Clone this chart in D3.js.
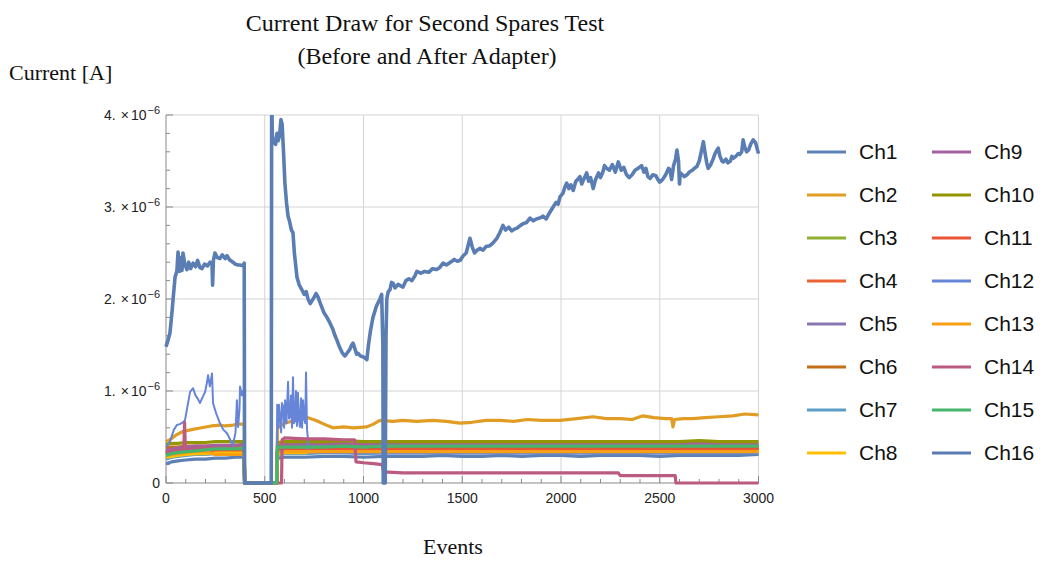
<!DOCTYPE html>
<html>
<head>
<meta charset="utf-8">
<script src="https://cdn.jsdelivr.net/npm/d3@7"></script>
<style>
  body { margin: 0; background: #fff; }
  svg { display: block; }
</style>
</head>
<body>
<svg id="chart" width="1045" height="561"></svg>
<script>
// values are in units of 1e-6 A
var channels = ["Ch1","Ch2","Ch3","Ch4","Ch5","Ch6","Ch7","Ch8","Ch9","Ch10","Ch11","Ch12","Ch13","Ch14","Ch15","Ch16"];
var colors = ["#5e81b5","#e19c24","#8fb032","#eb6235","#8778b3","#c56e1a","#5d9ec7","#ffbf00",
              "#a5609d","#929600","#e95536","#6685d9","#f89f13","#bc5b80","#47b66d","#5a7db3"];
var xTicks = [0, 500, 1000, 1500, 2000, 2500, 3000];
var yTicks = [0, 1, 2, 3, 4];

// shared event grid for the flat "bundle" channels
var bundleEvents = [0,30,60,100,150,200,250,300,350,396,398,560,565,600,700,800,900,1000,1100,1200,
  1300,1400,1500,1600,1700,1800,1900,2000,2100,2200,2300,2400,2500,2600,2700,2800,2900,3000];
var ch1 = [0.21,0.23,0.24,0.25,0.26,0.26,0.27,0.27,0.28,0.28,0,0,0.27,0.28,0.28,0.29,0.29,0.28,0.29,0.29,
  0.29,0.30,0.29,0.29,0.30,0.29,0.30,0.30,0.29,0.30,0.30,0.30,0.29,0.30,0.30,0.30,0.30,0.31];
var ch3 = [0.33,0.35,0.36,0.37,0.38,0.38,0.39,0.39,0.39,0.40,0,0,0.38,0.40,0.40,0.40,0.41,0.40,0.41,0.41,
  0.41,0.41,0.41,0.41,0.41,0.41,0.41,0.41,0.42,0.41,0.41,0.41,0.41,0.41,0.41,0.42,0.41,0.41];
var ch4 = [0.30,0.31,0.32,0.33,0.34,0.34,0.35,0.35,0.35,0.36,0,0,0.35,0.36,0.36,0.37,0.37,0.36,0.37,0.37,
  0.37,0.37,0.37,0.37,0.37,0.37,0.37,0.37,0.37,0.37,0.37,0.37,0.37,0.37,0.37,0.37,0.37,0.37];
var ch5 = [0.32,0.34,0.35,0.36,0.37,0.37,0.38,0.38,0.38,0.39,0,0,0.38,0.39,0.40,0.40,0.40,0.40,0.40,0.40,
  0.41,0.40,0.40,0.41,0.41,0.40,0.41,0.41,0.41,0.41,0.41,0.41,0.41,0.41,0.41,0.41,0.41,0.41];
var ch6 = [0.38,0.39,0.39,0.40,0.40,0.40,0.40,0.40,0.41,0.41,0,0,0.38,0.38,0.38,0.38,0.38,0.38,0.38,0.38,
  0.38,0.38,0.38,0.38,0.38,0.38,0.38,0.38,0.38,0.38,0.38,0.38,0.38,0.38,0.38,0.38,0.38,0.38];
var ch7 = [0.26,0.28,0.29,0.30,0.31,0.31,0.32,0.32,0.32,0.33,0,0,0.31,0.32,0.32,0.33,0.33,0.32,0.33,0.33,
  0.33,0.33,0.33,0.33,0.33,0.33,0.33,0.33,0.33,0.33,0.33,0.33,0.33,0.33,0.33,0.33,0.33,0.33];
var ch8 = [0.28,0.29,0.30,0.31,0.32,0.32,0.33,0.33,0.33,0.33,0,0,0.32,0.33,0.33,0.34,0.34,0.33,0.34,0.34,
  0.34,0.34,0.34,0.34,0.34,0.34,0.34,0.34,0.34,0.34,0.34,0.34,0.34,0.34,0.34,0.34,0.34,0.34];
var ch9 = [0.35,0.37,0.38,0.39,0.40,0.40,0.41,0.41,0.41,0.42,0,0,0.41,0.42,0.43,0.43,0.43,0.42,0.43,0.43,
  0.43,0.43,0.43,0.43,0.43,0.43,0.43,0.43,0.43,0.43,0.43,0.43,0.43,0.43,0.43,0.43,0.43,0.43];
var ch10 = [0.42,0.43,0.43,0.44,0.44,0.44,0.45,0.45,0.45,0.45,0,0,0.44,0.45,0.45,0.45,0.46,0.45,0.45,0.45,
  0.45,0.45,0.45,0.45,0.45,0.45,0.45,0.45,0.45,0.45,0.45,0.45,0.45,0.45,0.46,0.45,0.45,0.45];
var ch11 = [0.31,0.32,0.33,0.34,0.35,0.35,0.36,0.36,0.36,0.36,0,0,0.36,0.37,0.37,0.37,0.38,0.37,0.38,0.38,
  0.38,0.38,0.38,0.38,0.38,0.38,0.38,0.38,0.38,0.38,0.38,0.38,0.38,0.38,0.38,0.38,0.38,0.38];
var ch13 = [0.30,0.31,0.32,0.33,0.34,0.34,0.31,0.31,0.31,0.31,0,0,0.33,0.34,0.34,0.34,0.34,0.34,0.34,0.34,
  0.34,0.34,0.34,0.34,0.34,0.34,0.34,0.34,0.34,0.34,0.34,0.34,0.34,0.34,0.34,0.34,0.34,0.34];
var ch15 = [0.30,0.32,0.33,0.34,0.35,0.36,0.37,0.37,0.37,0.38,0,0,0.39,0.39,0.39,0.39,0.40,0.39,0.40,0.40,
  0.40,0.40,0.40,0.40,0.40,0.40,0.40,0.40,0.40,0.40,0.40,0.40,0.40,0.40,0.40,0.40,0.40,0.40];

// channels with their own shape: [event, value]
var ch2 = [[0,0.45],[20,0.47],[50,0.52],[86,0.56],[130,0.58],[180,0.6],[230,0.62],[273,0.63],[300,0.62],
  [339,0.63],[370,0.64],[396,0.64],[398,0],[560,0],[565,0.6],[600,0.65],[650,0.68],[700,0.7],[719,0.71],
  [760,0.68],[800,0.64],[845,0.6],[900,0.61],[950,0.6],[1017,0.61],[1050,0.64],[1083,0.68],[1150,0.67],
  [1200,0.68],[1270,0.67],[1350,0.68],[1420,0.67],[1489,0.65],[1550,0.66],[1620,0.68],[1691,0.68],
  [1760,0.67],[1830,0.69],[1900,0.68],[1995,0.68],[2080,0.7],[2162,0.72],[2230,0.7],[2300,0.7],[2360,0.69],
  [2415,0.73],[2470,0.71],[2530,0.7],[2560,0.7],[2567,0.61],[2575,0.69],[2620,0.7],[2668,0.7],[2730,0.71],
  [2800,0.72],[2870,0.73],[2930,0.75],[3000,0.74]];
var ch12 = [[0,0.39],[20,0.45],[40,0.58],[55,0.63],[70,0.64],[85,0.66],[96,0.68],[110,0.85],[122,0.99],
  [137,1.03],[150,0.95],[160,0.92],[172,0.87],[185,0.93],[198,0.99],[208,1.1],[213,1.17],[222,1.05],
  [233,1.19],[238,0.87],[255,0.75],[273,0.65],[290,0.58],[305,0.55],[314,0.52],[325,0.47],[339,0.41],
  [352,0.55],[359,0.9],[365,0.61],[372,0.8],[375,1.05],[385,0.95],[390,1.0],[396,0.98],[398,0],[560,0],
  [563,0.85],[568,0.6],[572,0.85],[577,0.72],[583,0.55],[587,0.87],[593,0.83],[598,0.6],[603,0.9],
  [610,0.65],[618,1.1],[623,0.7],[628,0.72],[633,0.95],[638,0.6],[643,1.15],[648,0.65],[653,0.68],
  [658,1.0],[663,0.62],[668,0.98],[673,0.7],[678,0.61],[684,0.92],[689,0.6],[694,0.9],[700,0.7],
  [705,0.65],[709,1.2],[714,0.58],[718,0.5],[722,0.33],[1000,0.32],[1500,0.32],[2000,0.32],[2500,0.32],[3000,0.32]];
var ch14 = [[0,0.33],[50,0.35],[90,0.36],[94,0.66],[98,0.36],[150,0.37],[200,0.38],[250,0.38],[300,0.38],
  [350,0.38],[396,0.38],[398,0],[585,0],[588,0.47],[600,0.49],[700,0.48],[800,0.48],[900,0.47],[955,0.47],
  [962,0.23],[1000,0.22],[1050,0.21],[1095,0.2],[1102,0.12],[1200,0.11],[1400,0.11],[1600,0.11],
  [1800,0.11],[2000,0.11],[2200,0.11],[2290,0.11],[2300,0.08],[2500,0.08],[2578,0.08],[2582,0],[3000,0]];
var ch16 = [[0,1.48],[10,1.55],[20,1.63],[30,1.85],[38,2.05],[46,2.24],[55,2.3],[61,2.51],[68,2.3],[75,2.45],
  [81,2.31],[86,2.5],[95,2.38],[106,2.32],[115,2.4],[125,2.33],[137,2.39],[150,2.35],[160,2.42],[172,2.34],
  [182,2.33],[195,2.38],[210,2.36],[223,2.4],[233,2.38],[236,2.15],[240,2.42],[248,2.5],[260,2.45],
  [273,2.44],[285,2.48],[300,2.44],[309,2.47],[320,2.43],[339,2.4],[350,2.38],[365,2.37],[375,2.37],
  [390,2.36],[396,2.39],[398,0],[533,0],[535,4.3],[538,3.8],[542,3.7],[547,3.72],[555,3.68],[562,3.8],
  [568,3.72],[575,3.78],[582,3.95],[588,3.9],[595,3.6],[602,3.26],[610,3.05],[618,2.9],[625,2.85],
  [635,2.75],[643,2.72],[650,2.5],[663,2.24],[675,2.15],[688,2.1],[700,2.05],[710,2.08],[719,2.0],
  [730,1.95],[745,2.0],[760,2.06],[770,2.02],[780,1.96],[800,1.85],[815,1.8],[830,1.74],[845,1.67],
  [856,1.6],[866,1.55],[878,1.48],[891,1.42],[905,1.38],[916,1.41],[930,1.45],[940,1.5],[947,1.52],
  [958,1.45],[965,1.4],[972,1.41],[985,1.38],[1000,1.37],[1017,1.34],[1025,1.5],[1035,1.65],[1048,1.8],
  [1065,1.92],[1083,2.0],[1092,2.05],[1098,1.5],[1100,0],[1110,0],[1114,1.6],[1118,2.0],[1125,2.08],
  [1134,2.1],[1142,2.18],[1150,2.17],[1160,2.12],[1175,2.16],[1190,2.14],[1200,2.13],[1215,2.2],
  [1230,2.22],[1245,2.2],[1260,2.25],[1270,2.3],[1290,2.28],[1310,2.3],[1330,2.29],[1350,2.33],
  [1370,2.32],[1385,2.34],[1403,2.39],[1420,2.37],[1440,2.4],[1460,2.43],[1475,2.41],[1489,2.42],
  [1505,2.47],[1520,2.5],[1539,2.66],[1550,2.57],[1562,2.5],[1575,2.53],[1590,2.55],[1605,2.53],
  [1620,2.57],[1640,2.58],[1656,2.61],[1675,2.66],[1690,2.72],[1706,2.8],[1720,2.75],[1735,2.78],
  [1750,2.74],[1765,2.76],[1777,2.77],[1795,2.8],[1810,2.82],[1825,2.83],[1843,2.88],[1860,2.85],
  [1875,2.87],[1893,2.88],[1910,2.9],[1925,2.87],[1940,2.93],[1960,3.0],[1975,3.05],[1985,3.03],
  [1995,3.11],[2010,3.15],[2020,3.22],[2029,3.26],[2040,3.2],[2050,3.24],[2062,3.18],[2075,3.28],
  [2085,3.3],[2096,3.33],[2105,3.25],[2115,3.3],[2130,3.37],[2140,3.28],[2150,3.32],[2163,3.2],
  [2175,3.3],[2190,3.37],[2200,3.32],[2212,3.38],[2220,3.45],[2231,3.42],[2245,3.4],[2260,3.46],
  [2275,3.38],[2290,3.49],[2305,3.4],[2318,3.43],[2332,3.35],[2345,3.32],[2360,3.35],[2375,3.4],
  [2390,3.42],[2408,3.45],[2420,3.38],[2430,3.42],[2440,3.33],[2451,3.31],[2465,3.35],[2480,3.34],
  [2490,3.3],[2500,3.27],[2515,3.3],[2530,3.35],[2545,3.42],[2552,3.4],[2560,3.3],[2570,3.45],
  [2580,3.52],[2587,3.62],[2595,3.5],[2600,3.25],[2604,3.37],[2615,3.35],[2625,3.33],[2638,3.35],
  [2650,3.38],[2665,3.4],[2675,3.42],[2688,3.44],[2700,3.5],[2710,3.6],[2721,3.71],[2730,3.58],
  [2738,3.48],[2745,3.42],[2758,3.46],[2770,3.52],[2780,3.58],[2790,3.62],[2796,3.64],[2805,3.55],
  [2815,3.5],[2822,3.49],[2835,3.52],[2845,3.48],[2858,3.5],[2865,3.55],[2872,3.53],[2885,3.55],
  [2897,3.58],[2905,3.57],[2915,3.6],[2922,3.73],[2932,3.64],[2940,3.6],[2950,3.62],[2960,3.68],
  [2973,3.73],[2985,3.7],[3000,3.58]];

function zipBundle(vals) { return bundleEvents.map(function (e, i) { return [e, vals[i]]; }); }
var series = [zipBundle(ch1), ch2, zipBundle(ch3), zipBundle(ch4), zipBundle(ch5), zipBundle(ch6),
  zipBundle(ch7), zipBundle(ch8), zipBundle(ch9), zipBundle(ch10), zipBundle(ch11), ch12,
  zipBundle(ch13), ch14, zipBundle(ch15), ch16];

var svg = d3.select("#chart");
var x = d3.scaleLinear().domain([0, 3000]).range([166, 758.5]);
var y = d3.scaleLinear().domain([0, 4]).range([483, 115]);

// gridlines
svg.append("g").selectAll("line.gx")
  .data(xTicks.filter(function (d) { return d > 0; }))
  .enter().append("line")
  .attr("x1", function (d) { return x(d); }).attr("x2", function (d) { return x(d); })
  .attr("y1", y(0)).attr("y2", y(4))
  .attr("stroke", "#d4d4d4").attr("stroke-width", 1);
svg.append("g").selectAll("line.gy")
  .data(yTicks.filter(function (d) { return d > 0; }))
  .enter().append("line")
  .attr("x1", x(0)).attr("x2", x(3000))
  .attr("y1", function (d) { return y(d); }).attr("y2", function (d) { return y(d); })
  .attr("stroke", "#d4d4d4").attr("stroke-width", 1);

// axes with inward ticks
var xAxis = svg.append("g").attr("transform", "translate(0," + y(0) + ")");
xAxis.append("line").attr("x1", x(0)).attr("x2", x(3000)).attr("stroke", "#8a8a8a");
xAxis.selectAll("line.minor").data(d3.range(0, 3001, 100)).enter().append("line")
  .attr("x1", function (d) { return x(d); }).attr("x2", function (d) { return x(d); })
  .attr("y1", 0).attr("y2", function (d) { return d % 500 === 0 ? -7 : -4; })
  .attr("stroke", "#8a8a8a");
xAxis.selectAll("text").data(xTicks).enter().append("text")
  .attr("x", function (d) { return x(d); }).attr("y", 20)
  .attr("text-anchor", "middle")
  .style("font", "14px 'Liberation Sans', Arial, sans-serif").attr("fill", "#222")
  .text(function (d) { return d; });

var yAxis = svg.append("g").attr("transform", "translate(" + x(0) + ",0)");
yAxis.append("line").attr("y1", y(0)).attr("y2", y(4)).attr("stroke", "#8a8a8a");
yAxis.selectAll("line.minor").data(d3.range(0, 4.01, 0.2)).enter().append("line")
  .attr("y1", function (d) { return y(d); }).attr("y2", function (d) { return y(d); })
  .attr("x1", 0).attr("x2", function (d) { return Math.abs(d - Math.round(d)) < 1e-6 ? 7 : 4; })
  .attr("stroke", "#8a8a8a");
var yLabels = yAxis.selectAll("text").data(yTicks).enter().append("text")
  .attr("x", -6).attr("y", function (d) { return y(d) + 5; })
  .attr("text-anchor", "end")
  .style("font", "14px 'Liberation Sans', Arial, sans-serif").attr("fill", "#222");
yLabels.each(function (d) {
  var t = d3.select(this);
  if (d === 0) { t.text("0"); return; }
  t.append("tspan").text(d + ".");
  t.append("tspan").attr("dx", 5).text("\u00d7");
  t.append("tspan").attr("dx", 2).text("10");
  t.append("tspan").attr("dx", 1).attr("dy", -6).style("font-size", "11px").text("\u22126");
});

// series
svg.append("clipPath").attr("id", "plotClip").append("rect")
  .attr("x", x(0) - 5).attr("y", y(4)).attr("width", x(3000) - x(0) + 10).attr("height", y(0) - y(4) + 6);
var line = d3.line().x(function (d) { return x(d[0]); }).y(function (d) { return y(d[1]); });
svg.append("g").attr("clip-path", "url(#plotClip)")
  .selectAll("path").data(series).enter().append("path")
  .attr("d", line)
  .attr("fill", "none")
  .attr("stroke", function (d, i) { return colors[i]; })
  .attr("stroke-width", function (d, i) { return i === 15 ? 3.6 : (i === 11 ? 2 : 3.2); })
  .attr("stroke-linejoin", "round");

// titles
var serif = "'Liberation Serif', 'Times New Roman', serif";
svg.append("text").attr("x", 425).attr("y", 31).attr("text-anchor", "middle")
  .style("font", "24px " + serif).attr("fill", "#111")
  .text("Current Draw for Second Spares Test");
svg.append("text").attr("x", 427).attr("y", 64).attr("text-anchor", "middle")
  .style("font", "24px " + serif).attr("fill", "#111")
  .text("(Before and After Adapter)");
svg.append("text").attr("x", 9).attr("y", 80)
  .style("font", "22px " + serif).attr("fill", "#111")
  .text("Current [A]");
svg.append("text").attr("x", 453).attr("y", 554).attr("text-anchor", "middle")
  .style("font", "22px " + serif).attr("fill", "#111")
  .text("Events");

// legend
var legend = svg.append("g").selectAll("g").data(channels).enter().append("g")
  .attr("transform", function (d, i) {
    return "translate(" + (i < 8 ? 807 : 932) + "," + (152 + (i % 8) * 43) + ")";
  });
legend.append("line").attr("x1", 0).attr("x2", 39)
  .attr("stroke", function (d, i) { return colors[i]; }).attr("stroke-width", 3);
legend.append("text").attr("x", 52).attr("y", 7)
  .style("font", "21px 'Liberation Sans', Arial, sans-serif").attr("fill", "#111")
  .text(function (d) { return d; });
</script>
</body>
</html>
